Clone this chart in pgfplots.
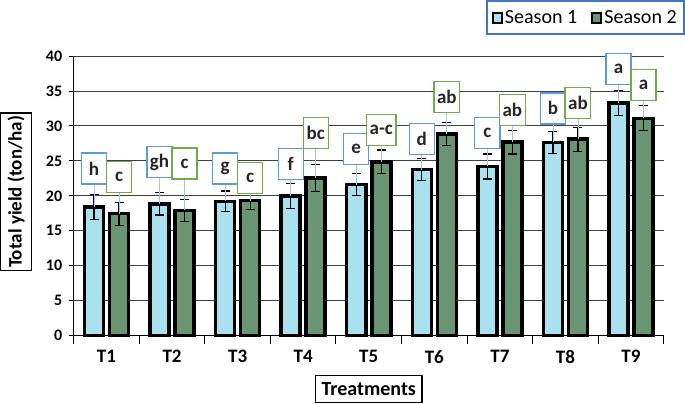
\documentclass[border=0pt]{standalone}
\usepackage{fontspec}
\setmainfont{Carlito}
\usepackage{pgfplots}
\usepackage{pgfplotstable}
\pgfplotsset{compat=1.18}

\definecolor{sone}{HTML}{A9E2EE}
\definecolor{stwo}{HTML}{6A9572}
\definecolor{boxblue}{HTML}{5B9BD5}
\definecolor{boxgreen}{HTML}{70AD47}
\definecolor{legblue}{HTML}{4472C4}
\definecolor{conn}{HTML}{AFC3DA}

% treatment, mean, error
\pgfplotstableread{
x y e
0 18.40 1.8
1 18.85 1.6
2 19.20 1.5
3 19.95 1.8
4 21.60 1.6
5 23.75 1.6
6 24.20 1.8
7 27.65 1.6
8 33.30 1.8
}\seasonone
\pgfplotstableread{
x y e
0 17.45 1.65
1 17.90 1.6
2 19.30 1.3
3 22.55 1.9
4 24.85 1.7
5 28.85 1.6
6 27.70 1.7
7 28.10 1.7
8 31.10 1.8
}\seasontwo
% letter boxes: bottom of box, letter, drop to bar top
\pgfplotstableread{
x y lab c
0 21.6 h  3.20
1 22.5 gh 3.65
2 21.6 g  2.40
3 22.2 f  2.25
4 24.4 e  2.80
5 25.8 d  2.05
6 26.7 c  2.50
7 30.2 b  2.55
8 35.8 a  2.50
}\letone
\pgfplotstableread{
x y lab c
0 20.4 c   2.95
1 22.3 c   4.40
2 20.2 c   0.90
3 26.7 bc  4.15
4 27.1 a-c 2.25
5 31.8 ab  2.95
6 30.0 ab  2.30
7 31.0 ab  2.90
8 33.5 a   2.40
}\lettwo

\begin{document}
\begin{tikzpicture}
\begin{axis}[
  scale only axis, width=589bp, height=279bp,
  ybar, bar width=19bp,
  xmin=-0.5, xmax=8.5, ymin=0, ymax=40,
  enlargelimits=false, clip=false,
  axis x line*=bottom, axis y line*=left,
  axis line style={line width=1bp, black},
  xtick={0,...,8},
  xticklabels={T1,T2,T3,T4,T5,T6,T7,T8,T9},
  minor xtick={-0.5,0.5,...,8.5},
  ytick={0,5,...,40},
  tick align=outside,
  major tick length=5bp, minor tick length=8bp,
  major x tick style={draw=none},
  tick style={line width=1bp, black},
  ymajorgrids,
  major grid style={line width=1bp, draw=black!75},
  /pgf/number format/assume math mode=true,
  yticklabel style={font=\fontsize{16bp}{18bp}\selectfont\bfseries, xshift=-3bp},
  xticklabel style={font=\fontsize{19bp}{21bp}\selectfont\bfseries, yshift=-6bp},
  xlabel={Treatments},
  ylabel={Total yield (ton/ha)},
  xlabel style={at={(axis description cs:0.5,-0.14)}, anchor=north,
    draw=black, line width=1.2bp, inner xsep=6bp, inner ysep=7bp,
    font=\fontsize{20bp}{22bp}\selectfont\bfseries},
  ylabel style={at={(axis description cs:-0.0976,0.514)}, anchor=center,
    draw=black, line width=1.2bp, inner xsep=3bp, inner ysep=7bp,
    font=\fontsize{19bp}{21bp}\selectfont\bfseries},
  legend columns=2,
  legend style={at={(axis description cs:1.036,1.2007)}, anchor=north east,
    draw=legblue, line width=2.5bp, inner xsep=5bp, inner ysep=7bp,
    font=\fontsize{20bp}{22bp}\selectfont,
    /tikz/every even column/.append style={column sep=12bp}},
  legend image code/.code={\draw[#1, line width=2bp] (0bp,-5bp) rectangle (9bp,4bp);},
  error bars/error bar style={line width=1.2bp, black},
  error bars/error mark options={rotate=90, mark size=4.5bp, line width=1.2bp, black},
]
\addplot[bar shift=-12.5bp, fill=sone, draw=black, line width=3.5bp,
  error bars/.cd, y dir=both, y explicit]
  table[x=x, y=y, y error=e] {\seasonone};
\addplot[bar shift=12.5bp, fill=stwo, draw=black, line width=3.5bp,
  error bars/.cd, y dir=both, y explicit]
  table[x=x, y=y, y error=e] {\seasontwo};
\legend{Season 1, Season 2}

\addplot[forget plot, bar shift=-12.5bp, draw=none, fill=none,
  point meta=explicit symbolic,
  nodes near coords,
  every node near coord/.append style={anchor=south, draw=boxblue, fill=white,
    line width=1.3bp, inner sep=3bp, minimum width=25bp, minimum height=31bp,
    text=black!85, font=\fontsize{19bp}{21bp}\selectfont\bfseries},
  error bars/.cd, y dir=minus, y explicit,
  error bar style={line width=0.8bp, conn}, error mark=none]
  table[x=x, y=y, meta=lab, y error minus=c] {\letone};
\addplot[forget plot, bar shift=12.5bp, draw=none, fill=none,
  point meta=explicit symbolic,
  nodes near coords,
  every node near coord/.append style={anchor=south, draw=boxgreen, fill=white,
    line width=1.3bp, inner sep=3bp, minimum width=25bp, minimum height=31bp,
    text=black!85, font=\fontsize{19bp}{21bp}\selectfont\bfseries},
  error bars/.cd, y dir=minus, y explicit,
  error bar style={line width=0.8bp, conn}, error mark=none]
  table[x=x, y=y, meta=lab, y error minus=c] {\lettwo};
\end{axis}
\end{tikzpicture}
\end{document}
